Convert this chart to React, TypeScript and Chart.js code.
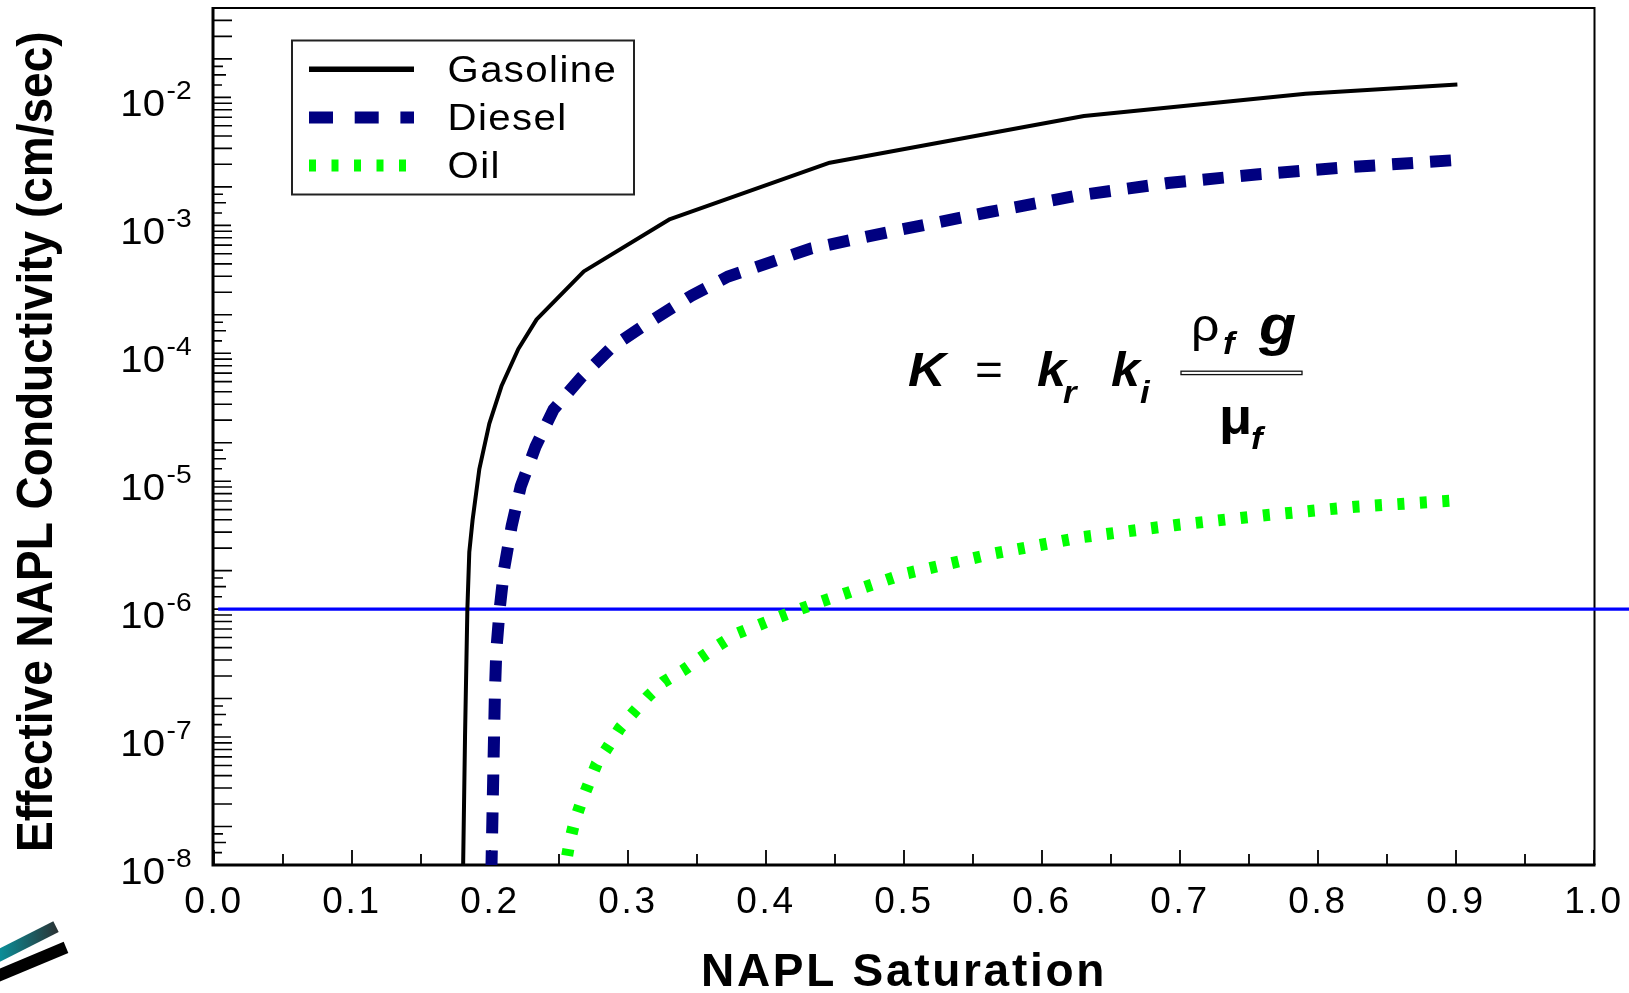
import React, { useEffect, useRef } from 'react';
import { Chart, registerables } from 'chart.js';

Chart.register(...registerables);

const FONT = '"Liberation Sans", Arial, Helvetica, sans-serif';
const STRETCH = 1.085;

const X_TITLE = 'NAPL Saturation';
const Y_TITLE = 'Effective NAPL Conductivity (cm/sec)';

const X_MIN = 0;
const X_MAX = 1.0;
const Y_MIN = 1e-8;
const Y_MAX = 5e-2;
const X_MAJOR_TICKS = [0, 0.1, 0.2, 0.3, 0.4, 0.5, 0.6, 0.7, 0.8, 0.9, 1.0];
const X_MINOR_TICKS = [0.05, 0.15, 0.25, 0.35, 0.45, 0.55, 0.65, 0.75, 0.85, 0.95];
const Y_DECADES = [1e-8, 1e-7, 1e-6, 1e-5, 1e-4, 1e-3, 1e-2];
const Y_MINOR_FACTORS = [1.25, 1.5, 1.75, 2, 3, 4, 5, 6, 7, 8, 9];

// NAPL saturation (x) and effective NAPL conductivity in cm/sec (y)
const GASOLINE_S = [0.1804, 0.1819, 0.1836, 0.185, 0.1874, 0.1923, 0.1995, 0.2085, 0.2205, 0.2338, 0.268, 0.3305, 0.4462, 0.6304, 0.791, 0.901];
const GASOLINE_K = [8.0e-9, 1.0e-7, 1.0e-6, 2.8e-6, 5.0e-6, 1.25e-5, 2.82e-5, 5.6e-5, 1.08e-4, 1.84e-4, 4.37e-4, 1.12e-3, 3.09e-3, 7.15e-3, 1.07e-2, 1.26e-2];

const DIESEL_S = [0.201, 0.2024, 0.2036, 0.2046, 0.207, 0.2103, 0.2157, 0.2223, 0.233, 0.246, 0.266, 0.2885, 0.3135, 0.346, 0.3725, 0.433, 0.4947, 0.56, 0.626, 0.691, 0.757, 0.8225, 0.9];
const DIESEL_K = [8.9e-9, 5.25e-8, 2.29e-7, 4.79e-7, 1.0e-6, 2.09e-6, 4.47e-6, 9.12e-6, 1.86e-5, 3.63e-5, 6.46e-5, 1.12e-4, 1.7e-4, 2.82e-4, 3.98e-4, 6.61e-4, 9.12e-4, 1.26e-3, 1.71e-3, 2.14e-3, 2.51e-3, 2.85e-3, 3.24e-3];

const OIL_S = [0.2535, 0.2548, 0.2575, 0.2611, 0.2657, 0.2713, 0.2773, 0.2853, 0.2942, 0.3046, 0.3147, 0.3256, 0.3397, 0.3527, 0.366, 0.3792, 0.3945, 0.4097, 0.4246, 0.4403, 0.5014, 0.5648, 0.6304, 0.696, 0.7616, 0.827, 0.9];
const OIL_K = [7.9e-9, 1.0e-8, 1.48e-8, 2.14e-8, 3.02e-8, 4.27e-8, 6.17e-8, 8.32e-8, 1.175e-7, 1.585e-7, 2.09e-7, 2.69e-7, 3.31e-7, 4.17e-7, 5.25e-7, 6.46e-7, 7.5e-7, 8.7e-7, 1.0e-6, 1.15e-6, 1.9e-6, 2.72e-6, 3.67e-6, 4.53e-6, 5.42e-6, 6.31e-6, 7.08e-6];

// reference level drawn across the plot
const THRESHOLD_S = [0.003, 1.03];
const THRESHOLD_K = [1.0e-6, 1.0e-6];

const LEGEND_LABELS = ['Gasoline', 'Diesel', 'Oil'];

const toPoints = (xs: number[], ys: number[]) => xs.map((x, i) => ({ x, y: ys[i] }));

function drawText(
  ctx: CanvasRenderingContext2D,
  text: string,
  x: number,
  y: number,
  font: string,
  align: CanvasTextAlign = 'left',
  spacing = 0
) {
  ctx.save();
  ctx.font = font;
  (ctx as any).letterSpacing = `${spacing}px`;
  ctx.fillStyle = '#000';
  ctx.textAlign = align;
  ctx.textBaseline = 'alphabetic';
  ctx.translate(x, y);
  ctx.scale(STRETCH, 1);
  ctx.fillText(text, 0, 0);
  ctx.restore();
}

const framePlugin = {
  id: 'frameAndTicks',
  beforeDraw(chart: any) {
    (chart.ctx as any).letterSpacing = '2.7px';
  },
  beforeDatasetsDraw(chart: any) {
    const ctx: CanvasRenderingContext2D = chart.ctx;
    const { left, right, top, bottom } = chart.chartArea;
    const xs = chart.scales.x;
    const ys = chart.scales.y;
    ctx.save();
    ctx.strokeStyle = '#000';
    // thin top / right border
    ctx.lineWidth = 2;
    ctx.beginPath();
    ctx.moveTo(left, top);
    ctx.lineTo(right + 0.5, top);
    ctx.lineTo(right + 0.5, bottom);
    ctx.stroke();
    // heavier left / bottom axes
    ctx.lineWidth = 3;
    ctx.beginPath();
    ctx.moveTo(left - 1, top - 1);
    ctx.lineTo(left - 1, bottom);
    ctx.lineTo(right + 1.5, bottom);
    ctx.stroke();

    // x ticks (inside)
    ctx.lineWidth = 1.8;
    ctx.beginPath();
    X_MAJOR_TICKS.forEach((v) => {
      const px = xs.getPixelForValue(v);
      ctx.moveTo(px, bottom);
      ctx.lineTo(px, bottom - 15);
    });
    X_MINOR_TICKS.forEach((v) => {
      const px = xs.getPixelForValue(v);
      ctx.moveTo(px, bottom);
      ctx.lineTo(px, bottom - 11);
    });
    ctx.stroke();

    // y ticks (inside)
    ctx.lineWidth = 1.6;
    ctx.beginPath();
    Y_DECADES.forEach((d) => {
      const py = ys.getPixelForValue(d);
      ctx.moveTo(left - 1, py);
      ctx.lineTo(left + 17, py);
      Y_MINOR_FACTORS.forEach((f) => {
        const v = d * f;
        if (v > Y_MAX * 1.0001) return;
        const p = ys.getPixelForValue(v);
        const len = f === 1.25 ? 8 : f === 1.5 ? 12 : f === 1.75 ? 9 : 18;
        ctx.moveTo(left - 1, p);
        ctx.lineTo(left + len, p);
      });
    });
    ctx.stroke();
    ctx.restore();
  },
  afterDraw(chart: any) {
    const ctx: CanvasRenderingContext2D = chart.ctx;
    const ys = chart.scales.y;
    ctx.save();
    (ctx as any).letterSpacing = '0px';

    // y tick labels 10^n
    Y_DECADES.forEach((d) => {
      const py = ys.getPixelForValue(d);
      const exp = Math.round(Math.log10(d));
      drawText(ctx, '10', 165, py + 18.7, `37px ${FONT}`, 'right');
      drawText(ctx, `${exp}`, 166.5, py + 2, `26px ${FONT}`, 'left');
    });

    // y axis title (rotated)
    ctx.save();
    ctx.translate(52, 441.7);
    ctx.scale(STRETCH, 1);
    ctx.rotate(-Math.PI / 2);
    ctx.font = `bold 46px ${FONT}`;
    ctx.fillStyle = '#000';
    ctx.textAlign = 'center';
    ctx.textBaseline = 'alphabetic';
    ctx.fillText(Y_TITLE, 0, 0);
    ctx.restore();

    // legend
    ctx.save();
    ctx.strokeStyle = '#222';
    ctx.lineWidth = 2;
    ctx.strokeRect(292, 40.5, 342, 154);
    ctx.restore();
    const items = chart.data.datasets.filter((ds: any) => LEGEND_LABELS.includes(ds.label));
    items.forEach((ds: any, i: number) => {
      const y = 69.3 + i * 48.1;
      ctx.save();
      ctx.strokeStyle = ds.borderColor;
      ctx.lineWidth = ds.legendWidth ?? ds.borderWidth;
      ctx.setLineDash(ds.legendDash ?? ds.borderDash ?? []);
      ctx.lineCap = 'butt';
      ctx.beginPath();
      ctx.moveTo(309, y);
      ctx.lineTo(414, y);
      ctx.stroke();
      ctx.restore();
      drawText(ctx, ds.label, 447.5, y + 12.4, `37px ${FONT}`, 'left', 1.3);
    });

    // formula K = kr ki (rho_f g) / mu_f
    const it = (s: number) => `italic bold ${s}px ${FONT}`;
    drawText(ctx, 'K', 908, 386, it(48));
    drawText(ctx, '=', 975, 385, `44px ${FONT}`);
    drawText(ctx, 'k', 1037, 386, it(48));
    drawText(ctx, 'r', 1063, 403, it(32));
    drawText(ctx, 'k', 1111, 386, it(48));
    drawText(ctx, 'i', 1140, 403, it(32));
    ctx.save();
    ctx.strokeStyle = '#111';
    ctx.lineWidth = 1.3;
    ctx.strokeRect(1181, 371.2, 121, 3.4);
    ctx.restore();
    drawText(ctx, '\u03C1', 1191, 340.6, `46px ${FONT}`);
    drawText(ctx, 'f', 1223, 354, it(32));
    drawText(ctx, 'g', 1259, 343.5, it(56));
    drawText(ctx, '\u03BC', 1219, 434, `bold 50px ${FONT}`);
    drawText(ctx, 'f', 1251, 449, it(32));

    // corner logo stripes
    ctx.save();
    ctx.lineCap = 'butt';
    ctx.lineWidth = 12;
    const grad = ctx.createLinearGradient(0, 0, 58, 0);
    grad.addColorStop(0, '#0b8e98');
    grad.addColorStop(1, '#2a3234');
    ctx.strokeStyle = grad;
    ctx.beginPath();
    ctx.moveTo(-4, 957);
    ctx.lineTo(56, 926.7);
    ctx.stroke();
    ctx.strokeStyle = '#000';
    ctx.beginPath();
    ctx.moveTo(-4, 976.7);
    ctx.lineTo(66, 947.4);
    ctx.stroke();
    ctx.restore();

    ctx.restore();
  },
};

export default function App() {
  const ref = useRef<HTMLCanvasElement>(null);

  useEffect(() => {
    document.documentElement.style.margin = '0';
    document.body.style.margin = '0';
    document.body.style.overflow = 'hidden';
    const canvas = ref.current;
    if (!canvas) return;

    const chart = new Chart(canvas, {
      type: 'line',
      data: {
        datasets: [
          {
            label: 'Gasoline',
            data: toPoints(GASOLINE_S, GASOLINE_K),
            borderColor: '#000000',
            borderWidth: 4,
            legendWidth: 5.5,
            pointRadius: 0,
            tension: 0,
            borderJoinStyle: 'round',
          } as any,
          {
            label: 'Diesel',
            data: toPoints(DIESEL_S, DIESEL_K),
            borderColor: '#000080',
            borderWidth: 12,
            borderDash: [21, 17],
            legendDash: [24, 21.7],
            borderCapStyle: 'butt',
            pointRadius: 0,
            tension: 0,
          } as any,
          {
            label: 'Oil',
            data: toPoints(OIL_S, OIL_K),
            borderColor: '#00ff00',
            borderWidth: 12,
            borderDash: [7, 15.5],
            borderCapStyle: 'butt',
            pointRadius: 0,
            tension: 0,
          } as any,
          {
            label: 'Threshold',
            data: toPoints(THRESHOLD_S, THRESHOLD_K),
            borderColor: '#0000ff',
            borderWidth: 3.3,
            pointRadius: 0,
            tension: 0,
            clip: false,
          } as any,
        ],
      },
      options: {
        animation: false,
        responsive: false,
        devicePixelRatio: 1,
        layout: { padding: { left: 0, top: 8, right: 35, bottom: 0 } },
        plugins: {
          legend: { display: false },
          tooltip: { enabled: false },
        },
        scales: {
          x: {
            type: 'linear',
            min: X_MIN,
            max: X_MAX,
            grid: { display: false, drawTicks: false },
            border: { display: false },
            ticks: {
              stepSize: 0.1,
              autoSkip: false,
              maxRotation: 0,
              padding: 16,
              color: '#000',
              font: { family: FONT, size: 37, lineHeight: 1.2 },
              callback: (v: any) => Number(v).toFixed(1),
            },
            title: {
              display: true,
              text: X_TITLE,
              color: '#000',
              font: { family: FONT, size: 46, weight: 'bold', lineHeight: 0.87 },
              padding: { top: 0, bottom: 0 },
            },
            afterFit: (scale: any) => {
              scale.height = 128;
              scale.paddingLeft = 0;
              scale.paddingRight = 0;
            },
          },
          y: {
            type: 'logarithmic',
            min: Y_MIN,
            max: Y_MAX,
            grid: { display: false, drawTicks: false },
            border: { display: false },
            ticks: { display: false },
            title: { display: false },
            afterFit: (scale: any) => {
              scale.width = 214;
            },
          },
        },
      } as any,
      plugins: [framePlugin],
    });

    return () => chart.destroy();
  }, []);

  return (
    <div style={{ width: 1629, height: 993, background: '#ffffff' }}>
      <canvas ref={ref} width={1629} height={993} style={{ display: 'block', width: 1629, height: 993 }} />
    </div>
  );
}
